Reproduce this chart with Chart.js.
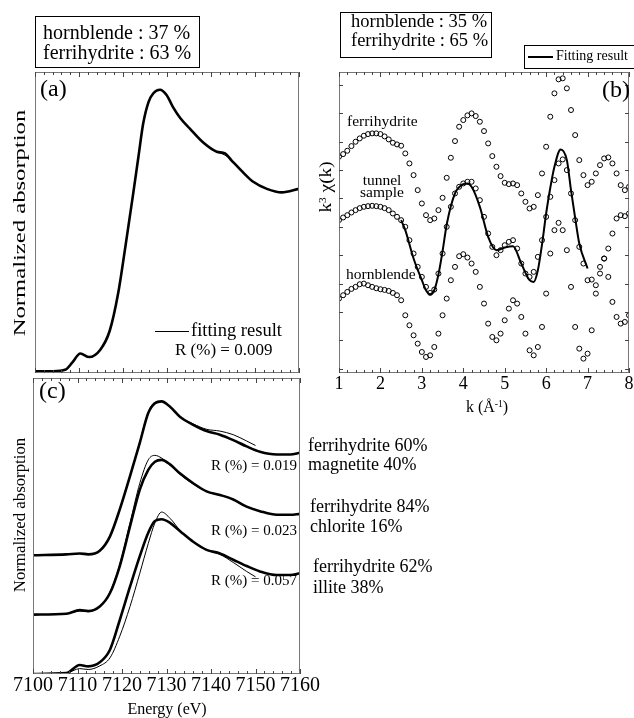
<!DOCTYPE html>
<html>
<head>
<meta charset="utf-8">
<script src="https://cdn.jsdelivr.net/npm/chart.js@4.4.0/dist/chart.umd.min.js"></script>
<style>
body{margin:0;background:#fff;}
#page{position:relative;width:634px;height:718px;overflow:hidden;font-family:"Liberation Serif","Times New Roman",serif;color:#000;}
#page canvas{position:absolute;left:0;top:0;}
.box{position:absolute;border:1px solid #000;background:#fff;box-sizing:border-box;}
.t{position:absolute;white-space:nowrap;}
.rot{position:absolute;white-space:nowrap;line-height:1;}
sup{font-size:60%;vertical-align:0.55em;line-height:0;}
</style>
</head>
<body>
<div id="page">
  <div class="box" style="left:35px;top:16px;width:165px;height:52px"></div>
  <div class="box" style="left:340px;top:12px;width:152px;height:46px"></div>
  <div class="box" style="left:524px;top:45px;width:115px;height:24px"></div>
  <canvas id="ca" width="634" height="718"></canvas>
  <canvas id="cb" width="634" height="718"></canvas>
  <canvas id="cc" width="634" height="718"></canvas>
</div>
<script>
// panel (a): XANES, hornblende + ferrihydrite fit
const aEnergy = [7100, 7104, 7107, 7108.5, 7110.3, 7112.3, 7114.8, 7117, 7118.9, 7120.4, 7122.3, 7123.5, 7124.6, 7125.8, 7126.9, 7128.4, 7129.9, 7131.4, 7133, 7135.2, 7138.3, 7141.3, 7143.2, 7144.7, 7147.4, 7149.6, 7152.7, 7156.1, 7160];
const aData   = [0.01, 0.01, 0.02, 0.06, 0.11, 0.09, 0.13, 0.24, 0.45, 0.69, 1.01, 1.22, 1.41, 1.53, 1.58, 1.60, 1.57, 1.50, 1.44, 1.38, 1.30, 1.25, 1.24, 1.20, 1.13, 1.08, 1.04, 1.02, 1.04];
const aFit    = [0.01, 0.01, 0.02, 0.06, 0.11, 0.09, 0.13, 0.24, 0.45, 0.69, 1.01, 1.22, 1.41, 1.53, 1.58, 1.60, 1.57, 1.50, 1.44, 1.38, 1.30, 1.25, 1.23, 1.20, 1.13, 1.08, 1.04, 1.02, 1.04];

// panel (c): three samples, data + linear combination fits
const cEnergy = [7100, 7107.5, 7110.5, 7112.4, 7115, 7117.3, 7119.5, 7121.8, 7124, 7125.9, 7127.4, 7128.9, 7130.8, 7133, 7136, 7139, 7142, 7145, 7148, 7151, 7154.8, 7157.8, 7160];
const c1Data = [1.32, 1.33, 1.34, 1.33, 1.37, 1.53, 1.83, 2.20, 2.57, 2.90, 3.01, 3.03, 2.97, 2.86, 2.77, 2.70, 2.66, 2.60, 2.53, 2.47, 2.44, 2.44, 2.46];
const c2Data = [0.66, 0.67, 0.71, 0.70, 0.75, 0.90, 1.20, 1.64, 2.05, 2.27, 2.36, 2.38, 2.33, 2.23, 2.12, 2.03, 1.99, 1.94, 1.86, 1.81, 1.77, 1.77, 1.78];
const c3Data = [0.00, 0.01, 0.10, 0.085, 0.13, 0.27, 0.60, 0.97, 1.31, 1.57, 1.70, 1.72, 1.68, 1.59, 1.47, 1.38, 1.34, 1.27, 1.20, 1.14, 1.10, 1.10, 1.12];
const cFitEnergy = [7100, 7107.5, 7110.5, 7112.4, 7115, 7117.3, 7119.5, 7121.8, 7124, 7125.9, 7127.4, 7128.9, 7130.8, 7133, 7136, 7139, 7142, 7145, 7148, 7150];
const c1Fit = [1.32, 1.33, 1.34, 1.33, 1.37, 1.53, 1.83, 2.20, 2.58, 2.91, 3.02, 3.03, 2.97, 2.86, 2.78, 2.72, 2.70, 2.66, 2.59, 2.54];
const c2Fit = [0.66, 0.67, 0.70, 0.69, 0.75, 0.91, 1.22, 1.68, 2.12, 2.38, 2.43, 2.40, 2.32, 2.22, 2.11, 2.03, 1.99, 1.94, 1.86, 1.83];
const c3Fit = [0.00, 0.01, 0.06, 0.05, 0.09, 0.18, 0.42, 0.75, 1.12, 1.45, 1.68, 1.80, 1.73, 1.60, 1.47, 1.38, 1.33, 1.24, 1.14, 1.08];

// panel (b): EXAFS k3 chi(k)
const kGrid = [1.0, 1.1, 1.2, 1.3, 1.4, 1.5, 1.6, 1.7, 1.8, 1.9, 2.0, 2.1, 2.2, 2.3, 2.4, 2.5, 2.6, 2.7, 2.8, 2.9, 3.0, 3.1, 3.2, 3.3, 3.4, 3.5, 3.6, 3.7, 3.8, 3.9, 4.0, 4.1, 4.2, 4.3, 4.4, 4.5, 4.6, 4.7, 4.8, 4.9, 5.0, 5.1, 5.2, 5.3, 5.4, 5.5, 5.6, 5.7, 5.8, 5.9, 6.0, 6.1, 6.2, 6.3, 6.4, 6.5, 6.6, 6.7, 6.8, 6.9, 7.0, 7.1, 7.2, 7.3, 7.4, 7.5, 7.6, 7.7, 7.8, 7.9, 8.0];
const ferrihydrite = [6.48, 6.56, 6.66, 6.80, 6.93, 7.03, 7.11, 7.16, 7.18, 7.18, 7.16, 7.09, 7.00, 6.90, 6.85, 6.81, 6.58, 6.28, 5.93, 5.48, 5.08, 4.73, 4.58, 4.63, 4.88, 5.25, 5.85, 6.45, 6.95, 7.38, 7.58, 7.72, 7.78, 7.70, 7.53, 7.25, 6.88, 6.50, 6.18, 5.90, 5.70, 5.66, 5.68, 5.63, 5.38, 5.13, 4.93, 4.98, 5.33, 5.98, 6.78, 7.68, 8.38, 8.80, 8.83, 8.53, 7.88, 7.13, 6.38, 5.93, 5.63, 5.73, 5.98, 6.23, 6.43, 6.46, 6.28, 5.98, 5.63, 5.48, 5.58];
const tunnel = [4.58, 4.66, 4.73, 4.81, 4.88, 4.94, 4.98, 5.00, 5.01, 5.00, 4.98, 4.94, 4.88, 4.78, 4.68, 4.58, 4.38, 3.98, 3.58, 3.18, 2.88, 2.58, 2.40, 2.50, 2.98, 3.58, 4.38, 4.98, 5.38, 5.58, 5.68, 5.73, 5.73, 5.53, 5.18, 4.68, 4.18, 3.78, 3.53, 3.68, 3.83, 3.93, 3.98, 3.73, 3.28, 2.98, 2.88, 3.03, 3.48, 3.98, 4.68, 5.28, 5.78, 6.28, 6.40, 6.08, 5.38, 4.58, 3.78, 3.28, 2.78, 2.80, 2.63, 2.98, 3.43, 3.73, 4.18, 4.63, 4.73, 4.70, 4.78];
const hornblende = [2.23, 2.33, 2.43, 2.52, 2.58, 2.66, 2.68, 2.63, 2.58, 2.54, 2.51, 2.49, 2.46, 2.40, 2.33, 2.18, 1.73, 1.43, 1.13, 0.88, 0.63, 0.48, 0.53, 0.78, 1.18, 1.73, 2.23, 2.78, 3.18, 3.50, 3.56, 3.46, 3.28, 3.03, 2.58, 2.08, 1.48, 1.08, 0.98, 1.18, 1.58, 1.93, 2.18, 2.08, 1.68, 1.18, 0.68, 0.53, 0.78, 1.38, 2.38, 3.58, 4.28, 4.50, 4.28, 3.68, 2.58, 1.38, 0.73, 0.43, 0.58, 1.28, 2.38, 3.18, 3.43, 2.88, 2.13, 1.68, 1.48, 1.53, 1.73];
const kFit = [2.5, 2.6, 2.8, 3.0, 3.1, 3.2, 3.3, 3.4, 3.5, 3.6, 3.8, 4.0, 4.1, 4.2, 4.4, 4.6, 4.8, 5.0, 5.2, 5.4, 5.6, 5.7, 5.8, 5.9, 6.0, 6.1, 6.2, 6.35, 6.5, 6.6, 6.7, 6.8, 7.0];
const tunnelFit = [4.58, 4.28, 3.43, 2.78, 2.48, 2.36, 2.48, 2.95, 3.65, 4.45, 5.38, 5.66, 5.68, 5.58, 4.98, 4.08, 3.68, 3.76, 3.80, 3.28, 2.78, 2.73, 3.08, 3.85, 4.78, 5.55, 6.18, 6.70, 6.38, 5.48, 4.65, 3.88, 3.13];

// axis ticks
const energyTicks = [7100, 7110, 7120, 7130, 7140, 7150, 7160];
const kTicks = [1, 2, 3, 4, 5, 6, 7, 8];
const bYTicks = [0.13, 0.98, 1.83, 2.68, 3.53, 4.38, 5.23, 6.08, 6.93, 7.78, 8.63];

const pts = (xs, ys) => xs.map((x, i) => ({ x, y: ys[i] }));
const line = (xs, ys, w) => ({ data: pts(xs, ys), showLine: true, borderColor: '#000', borderWidth: w, pointRadius: 0, cubicInterpolationMode: 'monotone' });
const rings = (xs, ys) => ({ data: pts(xs, ys), showLine: false, pointStyle: 'circle', pointRadius: 2.5, pointBorderWidth: 1, pointBorderColor: '#000', pointBackgroundColor: 'rgba(0,0,0,0)' });

// frame + inward ticks + tick labels
const frameAxes = {
  id: 'frameAxes',
  afterDraw(chart, args, o) {
    const { ctx, chartArea: a, scales: { x, y } } = chart;
    ctx.save();
    ctx.strokeStyle = '#777';
    ctx.lineWidth = 1;
    ctx.strokeRect(a.left + 0.5, a.top + 0.5, a.right - a.left - 1, a.bottom - a.top - 1);
    ctx.strokeStyle = '#444';
    const tick = (px, len, horiz) => {
      const p = Math.round(px) + 0.5;
      ctx.beginPath();
      if (horiz) {
        if (o.bottom) { ctx.moveTo(p, a.bottom); ctx.lineTo(p, a.bottom - len); }
        if (o.top) { ctx.moveTo(p, a.top); ctx.lineTo(p, a.top + len); }
      } else {
        if (o.left) { ctx.moveTo(a.left, p); ctx.lineTo(a.left + len, p); }
        if (o.right) { ctx.moveTo(a.right, p); ctx.lineTo(a.right - len, p); }
      }
      ctx.stroke();
    };
    const major = o.xTicks;
    for (let v = x.min; v <= x.max + 1e-9; v += o.xMinor) {
      const isMajor = major.some(m => Math.abs(m - v) < 1e-6);
      tick(x.getPixelForValue(v), isMajor ? 5 : 3, true);
    }
    (o.yTicks || []).forEach(v => tick(y.getPixelForValue(v), 4, false));
    if (o.labels) {
      ctx.fillStyle = '#000';
      ctx.font = o.labelFont;
      ctx.textAlign = 'center';
      ctx.textBaseline = 'alphabetic';
      major.forEach(v => ctx.fillText(String(v), x.getPixelForValue(v), a.bottom + o.labelGap));
    }
    ctx.restore();
  }
};

function makeChart(id, datasets, pad, xr, yr, axes) {
  return new Chart(document.getElementById(id), {
    type: 'scatter',
    data: { datasets },
    options: {
      responsive: false, animation: false, events: [],
      layout: { padding: pad },
      plugins: { legend: { display: false }, tooltip: { enabled: false }, frameAxes: axes },
      scales: {
        x: { type: 'linear', display: false, min: xr[0], max: xr[1] },
        y: { type: 'linear', display: false, min: yr[0], max: yr[1] }
      }
    },
    plugins: [frameAxes]
  });
}

makeChart('ca', [line(aEnergy, aData, 2.6), line(aEnergy, aFit, 1)],
  { left: 35, top: 72, right: 335, bottom: 345 }, [7100, 7160], [0, 1.7],
  { xTicks: energyTicks, xMinor: 2, top: true, bottom: true, labels: false });

makeChart('cc', [
    line(cEnergy, c1Data, 2.6), line(cFitEnergy, c1Fit, 1),
    line(cEnergy, c2Data, 2.6), line(cFitEnergy, c2Fit, 1),
    line(cEnergy, c3Data, 2.6), line(cFitEnergy, c3Fit, 1)
  ],
  { left: 33, top: 378, right: 334, bottom: 44 }, [7100, 7160], [0, 3.29],
  { xTicks: energyTicks, xMinor: 2, top: true, bottom: true, labels: true, labelFont: '20px "Liberation Serif"', labelGap: 17 });

makeChart('cb', [
    rings(kGrid, ferrihydrite), rings(kGrid, tunnel), rings(kGrid, hornblende),
    line(kFit, tunnelFit, 2)
  ],
  { left: 339, top: 72, right: 1, bottom: 345 }, [1, 8], [0, 9.02],
  { xTicks: kTicks, xMinor: 0.2, top: true, bottom: true, left: true, right: true, yTicks: bYTicks, labels: true, labelFont: '18px "Liberation Serif"', labelGap: 16 });

// text labels: [html, x, baseline, size, align]
const texts = [
  ['hornblende : 37 %', 43, 39, 20, 'left'],
  ['ferrihydrite : 63 %', 43, 59, 20, 'left'],
  ['hornblende : 35 %', 351, 28, 18.5, 'left'],
  ['ferrihydrite : 65 %', 351, 47, 18.5, 'left'],
  ['Fitting result', 556, 61, 14, 'left'],
  ['(a)', 40, 96, 24, 'left'],
  ['(b)', 630, 97, 24, 'right'],
  ['(c)', 39, 398, 24, 'left'],
  ['fitting result', 191, 337, 18.5, 'left'],
  ['R (%) = 0.009', 175, 355, 17, 'left'],
  ['R (%) = 0.019', 297, 471, 15, 'right'],
  ['R (%) = 0.023', 297, 536, 15, 'right'],
  ['R (%) = 0.057', 297, 586, 15, 'right'],
  ['ferrihydrite 60%', 308, 451, 18, 'left'],
  ['magnetite 40%', 308, 470, 18, 'left'],
  ['ferrihydrite 84%', 310, 512, 18, 'left'],
  ['chlorite 16%', 310, 532, 18, 'left'],
  ['ferrihydrite 62%', 313, 572, 18, 'left'],
  ['illite 38%', 313, 593, 18, 'left'],
  ['ferrihydrite', 347, 126, 15.5, 'left'],
  ['tunnel', 382, 185, 15.5, 'center'],
  ['sample', 382, 197, 15.5, 'center'],
  ['hornblende', 346, 279, 15.5, 'left'],
  ['Energy (eV)', 167, 714, 16, 'center'],
  ['k (Å<sup>-1</sup>)', 487, 412, 16, 'center']
];
const page = document.getElementById('page');
texts.forEach(([html, x, base, size, align]) => {
  const d = document.createElement('div');
  d.className = 't';
  d.innerHTML = html;
  d.style.fontSize = size + 'px';
  d.style.lineHeight = size + 'px';
  d.style.top = (base - 0.84 * size) + 'px';
  if (align === 'left') d.style.left = x + 'px';
  else if (align === 'right') d.style.right = (634 - x) + 'px';
  else { d.style.left = x + 'px'; d.style.transform = 'translateX(-50%)'; }
  page.appendChild(d);
});

// legend line for the EXAFS fit
const lg = document.createElement('div');
lg.style.cssText = 'position:absolute;left:528px;top:56px;width:25px;height:2px;background:#000';
page.appendChild(lg);
// short line next to "fitting result" in (a)
const lf = document.createElement('div');
lf.style.cssText = 'position:absolute;left:155px;top:331px;width:34px;height:1px;background:#000';
page.appendChild(lf);

// rotated axis titles: [html, cx, cy, size, stretch]
[
  ['Normalized absorption', 20, 223, 16, 1.54],
  ['Normalized absorption', 20, 515, 16, 1.05],
  ['k<sup>3</sup> &chi;(k)', 326, 187, 16, 1.2]
].forEach(([html, cx, cy, size, s]) => {
  const d = document.createElement('div');
  d.className = 'rot';
  d.innerHTML = html;
  d.style.fontSize = size + 'px';
  d.style.left = cx + 'px';
  d.style.top = cy + 'px';
  d.style.transform = `translate(-50%,-50%) rotate(-90deg) scaleX(${s})`;
  page.appendChild(d);
});
</script>
</body>
</html>
